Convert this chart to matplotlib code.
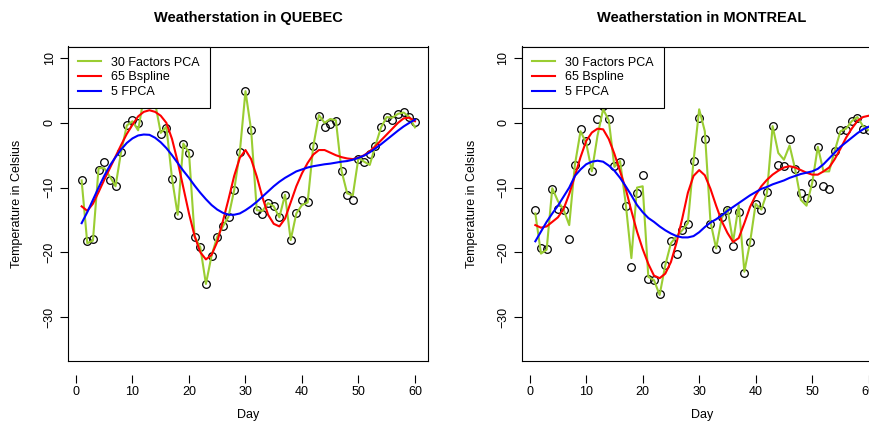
import matplotlib
matplotlib.use('Agg')
import matplotlib.pyplot as plt

plt.rcParams['font.family'] = ['Liberation Sans', 'DejaVu Sans']

days = list(range(1, 61))

# Quebec: observed temperatures and the three reconstructions
quebec_obs = [-8.9, -18.3, -18.0, -7.3, -6.1, -8.8, -9.8, -4.5, -0.4, 0.4,
              0.0, 3.6, 3.9, 3.0, -1.65, -0.8, -8.6, -14.2, -3.2, -4.6,
              -17.6, -19.2, -24.9, -20.5, -17.6, -16.0, -14.5, -10.4, -4.5, 4.9,
              -1.1, -13.5, -14.1, -12.4, -12.9, -14.5, -11.1, -18.1, -14.0, -11.9,
              -12.2, -3.6, 1.1, -0.6, -0.1, 0.3, -7.4, -11.1, -11.9, -5.6,
              -6.1, -4.8, -3.5, -0.7, 0.9, 0.5, 1.4, 1.65, 0.9, 0.1]
quebec_pca = [-8.9, -18.6, -18.2, -7.0, -7.0, -8.3, -9.8, -4.4, -0.4, 0.25,
              -1.15, 3.9, 4.1, 3.1, -1.55, -0.6, -8.6, -14.2, -3.2, -4.6,
              -17.6, -19.2, -24.9, -20.5, -17.6, -16.0, -14.5, -10.4, -4.5, 4.9,
              -1.1, -13.5, -13.6, -12.4, -12.9, -14.6, -11.1, -18.1, -14.0, -12.7,
              -12.3, -3.6, 1.2, 0.0, 0.6, 0.4, -7.4, -10.9, -11.2, -5.4,
              -6.0, -6.5, -3.5, -0.7, 0.9, 0.8, 1.4, 1.6, 0.9, -0.7]
quebec_bspline = [-12.9, -13.6, -12.5, -10.7, -8.8, -7.0, -5.2, -3.4, -1.7, -0.3,
                  1.0, 1.7, 1.95, 1.7, 1.1, 0.0, -2.5, -6.0, -10.0, -14.0,
                  -17.5, -20.0, -21.1, -20.4, -18.4, -15.2, -11.8, -8.2, -5.4, -4.2,
                  -5.6, -8.3, -11.5, -14.2, -15.6, -16.0, -14.8, -12.3, -9.8, -7.8,
                  -6.2, -4.9, -4.2, -4.2, -4.6, -5.0, -5.3, -5.5, -5.6, -5.4,
                  -5.0, -4.4, -3.6, -2.7, -1.8, -0.9, 0.0, 0.7, 0.8, 0.25]
quebec_fpca = [-15.5, -13.8, -11.9, -10.0, -8.2, -6.6, -5.3, -4.1, -3.1, -2.4,
               -1.95, -1.8, -1.85, -2.3, -3.0, -3.9, -5.0, -6.2, -7.4, -8.5,
               -9.7, -10.8, -11.8, -12.7, -13.4, -13.9, -14.2, -14.2, -14.0, -13.5,
               -12.9, -12.2, -11.4, -10.6, -9.8, -9.1, -8.5, -8.0, -7.5, -7.2,
               -6.9, -6.7, -6.55, -6.4, -6.3, -6.15, -6.0, -5.9, -5.7, -5.4,
               -5.05, -4.55, -3.95, -3.3, -2.6, -1.9, -1.2, -0.55, 0.0, 0.5]

# Montreal
montreal_obs = [-13.5, -19.4, -19.5, -10.2, -13.3, -13.5, -18.0, -6.5, -0.9, -2.8,
                -7.5, 0.6, 2.6, 0.6, -6.6, -6.0, -12.8, -22.2, -10.9, -8.1,
                -24.2, -24.3, -26.5, -22.0, -18.3, -20.2, -16.6, -15.7, -5.9, 0.8,
                -2.5, -15.6, -19.5, -14.6, -13.4, -19.0, -13.7, -23.2, -18.4, -12.6,
                -13.5, -10.7, -0.5, -6.5, -6.6, -2.5, -7.2, -10.9, -11.6, -9.3,
                -3.7, -9.8, -10.2, -4.3, -1.1, -1.1, 0.25, 0.8, -0.9, -1.1]
montreal_pca = [-14.0, -20.2, -19.6, -10.1, -12.1, -13.4, -15.8, -6.5, -1.3, -3.1,
                -7.5, -2.0, 2.1, 0.4, -6.8, -5.9, -12.5, -20.9, -10.0, -9.8,
                -23.8, -24.3, -26.6, -22.0, -18.6, -17.5, -16.6, -15.5, -5.9, 2.1,
                -1.3, -15.3, -19.4, -14.7, -13.2, -18.4, -12.7, -23.0, -18.5, -12.5,
                -13.4, -10.8, -0.5, -4.65, -5.7, -3.5, -7.2, -11.9, -12.8, -9.3,
                -3.7, -7.5, -7.5, -4.3, -1.3, -0.9, 0.25, 0.9, -0.5, -1.1]
montreal_bspline = [-15.8, -16.2, -16.0, -15.3, -14.6, -13.3, -11.0, -8.2, -5.3, -2.8,
                    -1.5, -0.9, -1.0, -2.5, -4.8, -7.5, -10.2, -13.6, -16.8, -19.5,
                    -21.8, -23.6, -24.0, -23.3, -21.5, -18.5, -14.8, -10.8, -8.2, -7.3,
                    -8.1, -10.2, -12.8, -15.2, -17.0, -18.4, -17.8, -15.5, -13.0, -11.2,
                    -9.8, -8.8, -8.0, -7.4, -6.9, -6.7, -6.9, -7.3, -7.7, -8.0,
                    -8.0, -7.5, -6.9, -5.6, -4.0, -2.3, -0.9, 0.3, 0.9, 1.1]
montreal_fpca = [-18.3, -16.8, -15.3, -14.0, -12.8, -11.4, -10.0, -8.2, -7.2, -6.4,
                 -6.0, -5.85, -6.0, -6.6, -7.4, -8.5, -9.8, -11.2, -12.7, -13.8,
                 -14.7, -15.3, -16.0, -16.6, -17.1, -17.5, -17.7, -17.7, -17.5, -16.9,
                 -16.1, -15.4, -14.9, -14.3, -13.6, -13.0, -12.4, -11.8, -11.2, -10.7,
                 -10.2, -9.9, -9.5, -9.2, -8.9, -8.5, -8.2, -7.9, -7.7, -7.5,
                 -7.1, -6.4, -5.5, -4.6, -3.7, -3.0, -2.3, -1.6, -1.0, -0.6]

x_ticks = [0, 10, 20, 30, 40, 50, 60]
y_ticks = [-30, -20, -10, 0, 10]

W, H = 870, 425


def draw_station(ax, title, obs, pca, bspline, fpca):
    ax.plot(days, obs, 'o', mfc='none', mec='black', ms=5.5, mew=0.9)
    ax.plot(days, pca, color='#9acd32', lw=1.5, label='30 Factors PCA')
    ax.plot(days, bspline, color='red', lw=1.5, label='65 Bspline')
    ax.plot(days, fpca, color='blue', lw=1.5, label='5 FPCA')

    ax.set_xlim(-1.36, 62.36)
    ax.set_ylim(-36.8, 11.8)
    ax.set_xticks(x_ticks)
    ax.set_yticks(y_ticks)
    for lab in ax.get_yticklabels():
        lab.set_rotation(90)
        lab.set_va('center')

    ax.tick_params(direction='out', length=6, width=0.8, labelsize=9)
    ax.tick_params(axis='x', pad=2)
    ax.tick_params(axis='y', pad=3)

    # x ticks sit a little below the frame
    ax.spines['bottom'].set_position(('outward', 10))
    ax.spines['bottom'].set_visible(False)
    ax.plot([0, 1], [0, 0], transform=ax.transAxes, color='black', lw=0.8,
            clip_on=False)
    for s in ['left', 'right', 'top']:
        ax.spines[s].set_linewidth(0.8)

    ax.text(0.5, 1.09, title, transform=ax.transAxes, ha='center',
            va='center', fontsize=10.5, fontweight='bold')
    ax.set_xlabel('Day', fontsize=9)
    ax.set_ylabel('Temperature in Celsius', fontsize=9)
    ax.xaxis.set_label_coords(0.5, -0.172)
    ax.xaxis.label.set_va('center')
    ax.yaxis.label.set_va('center')

    leg = ax.legend(loc='upper left', bbox_to_anchor=(0, 1), borderaxespad=0,
                    fontsize=9, fancybox=False, framealpha=1, edgecolor='black',
                    handlelength=1.85, handletextpad=0.8, borderpad=0.8,
                    labelspacing=0.23)
    leg.get_frame().set_linewidth(0.8)


def main():
    fig = plt.figure(figsize=(W / 100, H / 100), dpi=100)
    ax1 = fig.add_axes([68.3 / W, 64 / H, 360 / W, 314.5 / H])
    ax2 = fig.add_axes([522 / W, 64 / H, 360 / W, 314.5 / H])

    draw_station(ax1, 'Weatherstation in QUEBEC', quebec_obs, quebec_pca,
                 quebec_bspline, quebec_fpca)
    draw_station(ax2, 'Weatherstation in MONTREAL', montreal_obs, montreal_pca,
                 montreal_bspline, montreal_fpca)
    ax1.yaxis.set_label_coords(-0.143, 0.5)
    ax2.yaxis.set_label_coords(-0.14, 0.5)

    fig.savefig('out.png', dpi=100)


if __name__ == "__main__":
    main()
